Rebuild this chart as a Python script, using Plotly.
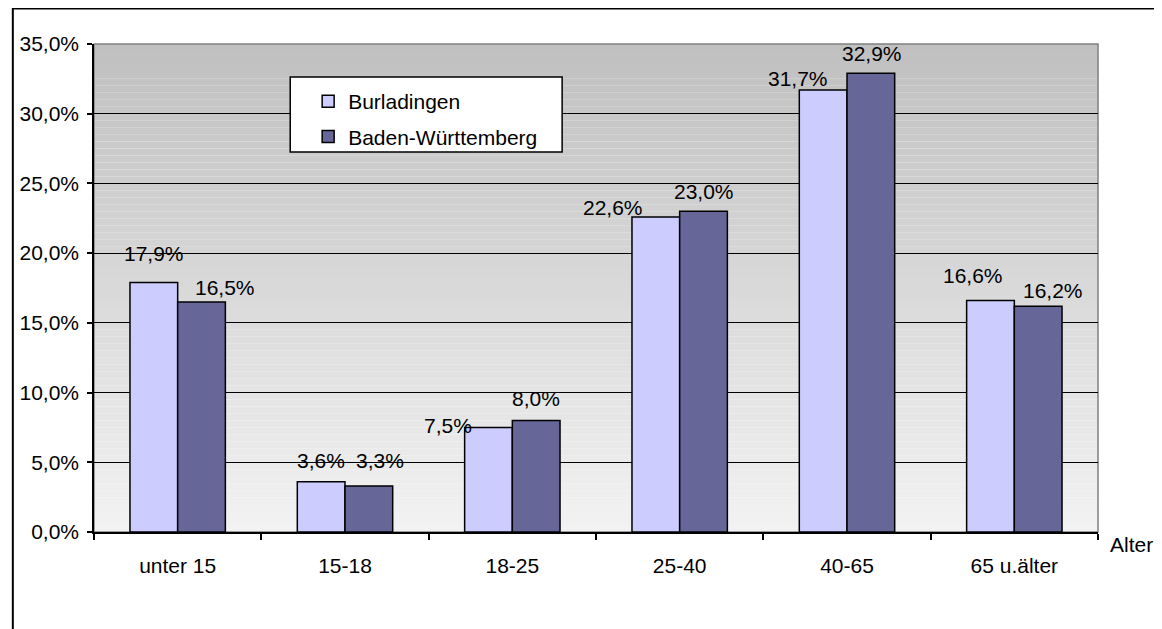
import plotly.graph_objects as go

categories = ["unter 15", "15-18", "18-25", "25-40", "40-65", "65 u.älter"]
burladingen = [17.9, 3.6, 7.5, 22.6, 31.7, 16.6]
baden_wuerttemberg = [16.5, 3.3, 8.0, 23.0, 32.9, 16.2]
y_ticks = [0, 5, 10, 15, 20, 25, 30, 35]

# label placement nudges (pixels) imitating the original label layout
light_dx = [0, 0, -40, -43, -25, -17]
light_dy = [21, 14, -6, 2, 4, 18]
dark_dx = [23, 11, 0, 0, 1, 15]
dark_dy = [7, 18, 14, 12, 12, 8]

FONT = "Liberation Sans, Arial, sans-serif"
FS = 21


def pct(v):
    return ("%.1f" % v).replace(".", ",") + "%"


fig = go.Figure()
fig.add_trace(go.Bar(
    x=categories, y=burladingen, name="Burladingen", legendgroup="a",
    marker=dict(color="#CCCCFF", line=dict(color="black", width=1.5)),
))
fig.add_trace(go.Bar(
    x=categories, y=baden_wuerttemberg, name="Baden-Württemberg", legendgroup="b",
    marker=dict(color="#666699", line=dict(color="black", width=1.5)),
))

annotations = []
bar_off = 24
for i, c in enumerate(categories):
    for vals, dx, dy, off in ((burladingen, light_dx, light_dy, -bar_off),
                              (baden_wuerttemberg, dark_dx, dark_dy, bar_off)):
        annotations.append(dict(
            x=c, y=vals[i], xref="x", yref="y", text=pct(vals[i]),
            showarrow=False, xanchor="center", yanchor="bottom",
            xshift=off + dx[i], yshift=dy[i] - 6,
            font=dict(size=FS, family=FONT, color="black"),
        ))
annotations.append(dict(text="Alter", xref="paper", yref="paper",
                        x=(1108 - 90) / 1008, y=(532 - 544) / 488,
                        xanchor="left", yanchor="middle", showarrow=False,
                        font=dict(size=FS, family=FONT)))

# gradient background bands
n = 70
top = (0xC0, 0xC0, 0xC0)
bot = (0xF2, 0xF2, 0xF2)
shapes = []
for i in range(n):
    f = i / (n - 1)
    col = tuple(int(round(bot[k] + (top[k] - bot[k]) * f)) for k in range(3))
    shapes.append(dict(
        type="rect", xref="x domain", yref="y", layer="below",
        x0=0, x1=1, y0=35 * i / n, y1=35 * (i + 1) / n,
        fillcolor="rgb(%d,%d,%d)" % col, line=dict(width=0),
    ))
# plot area border (grey, top/right)
shapes.append(dict(type="rect", xref="x domain", yref="y domain", layer="below",
                   x0=0, x1=1, y0=0, y1=1, fillcolor="rgba(0,0,0,0)",
                   line=dict(color="#808080", width=1.5)))
# legend box
shapes.append(dict(type="rect", xref="paper", yref="paper",
                   x0=(287 - 90) / 1008, x1=(560 - 90) / 1008,
                   y0=(532 - 152) / 488, y1=(532 - 77) / 488,
                   fillcolor="white", line=dict(color="black", width=1.5),
                   layer="above"))
# outer frame
shapes.append(dict(type="rect", xref="paper", yref="paper",
                   x0=(8.5 - 90) / 1008, x1=1.2, y0=-0.4, y1=(532 - 8.5) / 488,
                   fillcolor="rgba(0,0,0,0)", line=dict(color="black", width=2)))

fig.update_layout(
    width=1154, height=621,
    margin=dict(l=82, r=64, t=36, b=97),
    paper_bgcolor="white", plot_bgcolor="rgba(0,0,0,0)",
    barmode="group", bargap=0.43, bargroupgap=0,
    font=dict(family=FONT, size=FS, color="black"),
    shapes=shapes,
    annotations=annotations,
    showlegend=True,
    legend=dict(x=(305 - 90) / 1008, y=(532 - 81) / 488, xanchor="left", yanchor="top",
                bgcolor="rgba(0,0,0,0)", borderwidth=0,
                font=dict(size=FS, family=FONT), tracegroupgap=5,
                itemwidth=30),
    xaxis=dict(showline=True, linecolor="black", linewidth=1.5,
               ticks="outside", tickson="boundaries", ticklen=6,
               tickcolor="black", tickwidth=1.5, tickfont=dict(size=FS),
               ticklabelstandoff=14, showgrid=False),
    yaxis=dict(range=[0, 35], tickvals=y_ticks, ticktext=[pct(v) for v in y_ticks],
               showline=True, linecolor="black", linewidth=1.5,
               ticks="outside", ticklen=5, tickcolor="black", tickwidth=1.5,
               ticklabelstandoff=4,
               showgrid=True, gridcolor="black", gridwidth=1.2,
               zeroline=False, tickfont=dict(size=FS)),
)

fig.write_html("out.html")
